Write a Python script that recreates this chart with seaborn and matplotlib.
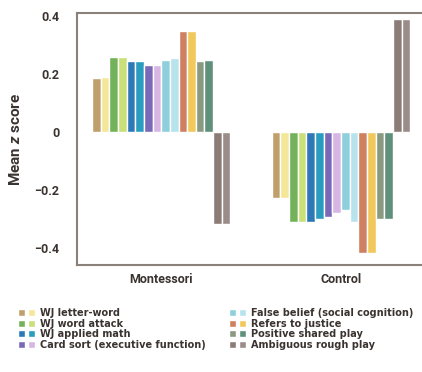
import pandas as pd
import matplotlib
matplotlib.use('Agg')
import matplotlib.pyplot as plt
import seaborn as sns
from matplotlib.legend_handler import HandlerTuple

groups = ['Montessori', 'Control']
measures = ['WJ letter-word', 'WJ word attack', 'WJ applied math',
            'Card sort (executive function)', 'False belief (social cognition)',
            'Refers to justice', 'Positive shared play', 'Ambiguous rough play']

# two shaded bars per measure
montessori_a = [0.185, 0.26, 0.245, 0.23, 0.25, 0.35, 0.245, -0.32]
montessori_b = [0.19, 0.26, 0.245, 0.23, 0.255, 0.35, 0.25, -0.32]
control_a = [-0.23, -0.31, -0.31, -0.295, -0.27, -0.42, -0.30, 0.39]
control_b = [-0.23, -0.31, -0.30, -0.28, -0.31, -0.42, -0.30, 0.39]

colors_a = ['#bfa06c', '#73b25a', '#2d79b8', '#7a68b8', '#8fcfdc', '#cf8060', '#8a9a80', '#8c7c78']
colors_b = ['#f4e79a', '#c9df78', '#2a9cbf', '#d8b6e4', '#b6e3ec', '#f0c85c', '#5f907c', '#9a8d89']

ytick_vals = [0.4, 0.2, 0, -0.2, -0.4]
ytick_labels = ['0.4', '0.2', '0', '\u22120.2', '\u22120.4']

series = []
palette = {}
rows = []
for i, m in enumerate(measures):
    for k, (mv, cv, col) in enumerate([(montessori_a, control_a, colors_a),
                                       (montessori_b, control_b, colors_b)]):
        name = m + (' a' if k == 0 else ' b')
        series.append(name)
        palette[name] = col[i]
        rows.append({'group': 'Montessori', 'series': name, 'value': mv[i]})
        rows.append({'group': 'Control', 'series': name, 'value': cv[i]})
df = pd.DataFrame(rows)

sns.set_style('white')
plt.rcParams['font.family'] = ['Roboto', 'DejaVu Sans']
plt.rcParams['mathtext.fontset'] = 'custom'
plt.rcParams['mathtext.it'] = 'Roboto:italic:bold'
plt.rcParams['mathtext.rm'] = 'Roboto:bold'

TXT = '#3a3330'
SPINE = '#8b817b'

fig = plt.figure(figsize=(4.22, 3.72), dpi=100)
ax = fig.add_axes([0.183, 0.288, 0.817, 0.676])

sns.barplot(data=df, x='group', y='value', hue='series', order=groups,
            hue_order=series, palette=palette, width=0.77, gap=0,
            saturation=1, legend=False, ax=ax)

ax.set_xlim(-0.467, 1.45)
ax.set_ylim(-0.46, 0.41)
ax.set_yticks(ytick_vals)
ax.set_yticklabels(ytick_labels)
ax.set_xlabel('')
ax.set_ylabel('Mean $z$ score', fontsize=11, fontweight='bold', color=TXT, labelpad=8)
ax.tick_params(axis='both', length=0, labelsize=9, labelcolor=TXT)
ax.tick_params(axis='y', pad=13)
ax.tick_params(axis='x', pad=6)
for lab in ax.get_xticklabels() + ax.get_yticklabels():
    lab.set_fontweight('bold')

ax.spines['right'].set_visible(False)
for s in ['left', 'bottom', 'top']:
    ax.spines[s].set_color(SPINE)
    ax.spines[s].set_linewidth(1.5)

handles = [(ax.containers[2 * i].patches[0], ax.containers[2 * i + 1].patches[0])
           for i in range(len(measures))]
fig.legend(handles, measures, ncol=2, loc='upper left', bbox_to_anchor=(0.022, 0.195),
           frameon=False, handlelength=1.7, handletextpad=0.55,
           columnspacing=2.4, labelspacing=0.05,
           handler_map={tuple: HandlerTuple(ndivide=None, pad=0.3)},
           prop={'family': ['DejaVu Sans'], 'weight': 'bold', 'size': 7})
for t in fig.legends[0].get_texts():
    t.set_color(TXT)

fig.savefig('out.png', dpi=100)
